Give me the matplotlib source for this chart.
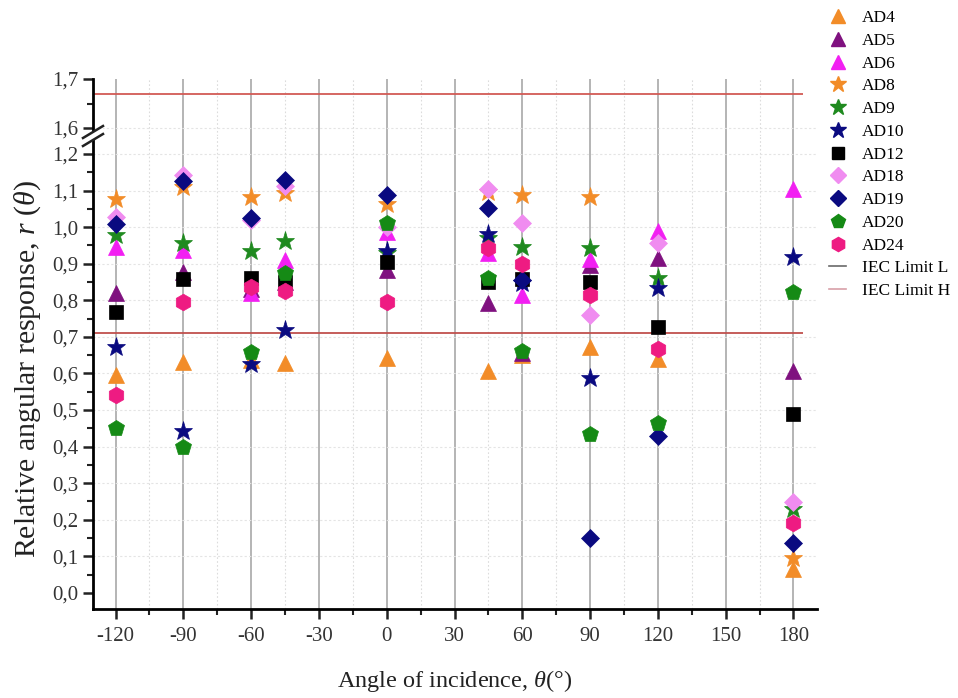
import numpy as np
import matplotlib
matplotlib.use("Agg")
import matplotlib.pyplot as plt
from matplotlib.lines import Line2D
from matplotlib.ticker import MultipleLocator, FixedLocator, FuncFormatter

plt.rcParams['font.family'] = ['Liberation Serif', 'DejaVu Serif']
plt.rcParams['mathtext.fontset'] = 'custom'
plt.rcParams['mathtext.rm'] = 'Liberation Serif'
plt.rcParams['mathtext.it'] = 'Liberation Serif:italic'

angles = [-120, -90, -60, -45, 0, 45, 60, 90, 120, 180]
nan = np.nan
AD4 = [0.596, 0.631, 0.637, 0.628, 0.642, 0.607, 0.650, 0.673, 0.639, 0.066]
AD5 = [0.820, 0.878, 0.830, 0.850, 0.882, 0.793, 0.655, 0.896, 0.915, 0.607]
AD6 = [0.946, 0.937, 0.820, 0.910, 0.987, 0.928, 0.814, 0.912, 0.990, 1.104]
AD8 = [1.077, 1.109, 1.082, 1.094, 1.063, 1.095, 1.087, 1.083, nan, 0.096]
AD9 = [0.978, 0.956, 0.935, 0.963, 0.930, 0.970, 0.946, 0.942, 0.860, 0.230]
AD10 = [0.673, 0.443, 0.626, 0.718, 0.935, 0.981, 0.847, 0.588, 0.833, 0.919]
AD12 = [0.769, 0.858, 0.860, 0.850, 0.905, 0.850, 0.857, 0.850, 0.727, 0.489]
AD18 = [1.027, 1.142, 1.020, 1.112, 1.000, 1.103, 1.012, 0.760, 0.957, 0.249]
AD19 = [1.008, 1.126, 1.024, 1.128, 1.087, 1.052, 0.855, 0.151, 0.429, 0.137]
AD20 = [0.451, 0.400, 0.659, 0.874, 1.012, 0.862, 0.660, 0.434, 0.465, 0.823]
AD24 = [0.541, 0.796, 0.837, 0.825, 0.796, 0.942, 0.900, 0.814, 0.666, 0.190]
IEC_L = 0.71
IEC_H = 1.67

series = [
    ("AD4", AD4, '^', '#f28c28', 12),
    ("AD5", AD5, '^', '#7f117f', 12),
    ("AD6", AD6, '^', '#f21ff2', 12),
    ("AD8", AD8, '*', '#f28c28', 14),
    ("AD9", AD9, '*', '#1f8a1f', 14),
    ("AD10", AD10, '*', '#0a0a80', 14),
    ("AD12", AD12, 's', '#000000', 9.5),
    ("AD18", AD18, 'D', '#f08cf0', 9.5),
    ("AD19", AD19, 'D', '#0a0a80', 9.5),
    ("AD20", AD20, 'p', '#158a15', 12),
    ("AD24", AD24, 'h', '#ee1b82', 12),
]

W, H = 958, 698
fig = plt.figure(figsize=(W / 100, H / 100), dpi=100)
left = 93 / W
right = 817 / W
y0 = 609
ybrk = 136
ytop = 79
ax = fig.add_axes([left, (H - y0) / H, right - left, (y0 - ybrk) / H])
axu = fig.add_axes([left, (H - ybrk) / H, right - left, (ybrk - ytop) / H], sharex=ax)

xlim = (-130, 190.4)
ax.set_xlim(*xlim)
ax.set_ylim(-0.044, 1.249)
axu.set_ylim(1.5837, 1.70)

for a in (ax, axu):
    a.spines['top'].set_visible(False)
    a.spines['right'].set_visible(False)
    a.spines['left'].set_linewidth(2)
    a.spines['bottom'].set_linewidth(2)
    a.set_facecolor('none')
    for xv in np.arange(-120, 181, 30):
        a.axvline(xv, color='#a8a8a8', lw=1.2, zorder=0)
    for xv in np.arange(-105, 181, 30):
        a.axvline(xv, color='#dcdcdc', lw=0.8, ls=(0, (1.5, 2)), zorder=0)
    a.tick_params(axis='both', which='major', direction='out', length=7, width=1.8,
                  labelsize=15, colors='#222222', labelcolor='#333333')
    a.tick_params(axis='both', which='minor', direction='out', length=4, width=1.5, colors='#222222')

ax.tick_params(axis='x', which='major', pad=6)
axu.spines['bottom'].set_visible(False)
axu.tick_params(axis='x', which='both', bottom=False, labelbottom=False)

ax.xaxis.set_major_locator(MultipleLocator(30))
ax.xaxis.set_minor_locator(MultipleLocator(15))
ax.yaxis.set_major_locator(FixedLocator(np.round(np.arange(0, 1.21, 0.1), 2)))
ax.yaxis.set_minor_locator(FixedLocator(np.round(np.arange(0.05, 1.25, 0.1), 2)))
axu.yaxis.set_major_locator(FixedLocator([1.6, 1.7]))
axu.yaxis.set_minor_locator(FixedLocator([1.65]))

fmt = lambda v, p: ('%.1f' % v).replace('.', ',')
ax.yaxis.set_major_formatter(FuncFormatter(fmt))
axu.yaxis.set_major_formatter(FuncFormatter(fmt))
ax.xaxis.set_major_formatter(FuncFormatter(lambda v, p: '%d' % v))

for yv in np.arange(0.1, 1.21, 0.1):
    ax.axhline(yv, color='#e4e4e4', lw=0.8, ls=(0, (2, 2)), zorder=0)
axu.axhline(1.6, color='#e4e4e4', lw=0.8, ls=(0, (2, 2)), zorder=0)

handles = []
for name, vals, mk, col, ms in series:
    ax.plot(angles, vals, linestyle='none', marker=mk, ms=ms, color=col,
            mec=col, mew=0.5, zorder=3, clip_on=False)
    handles.append(Line2D([], [], linestyle='none', marker=mk, ms=ms * 0.85,
                          color=col, mec=col, label=name))

ax.hlines(IEC_L, xlim[0], 184, color='#c0504d', lw=1.3, zorder=2)
axu.hlines(IEC_H, xlim[0], 184, color='#d25a55', lw=1.3, zorder=2)
handles.append(Line2D([], [], color='#6a6a6a', lw=1.2, label='IEC Limit L'))
handles.append(Line2D([], [], color='#d8a0a8', lw=1.2, label='IEC Limit H'))

fig.legend(handles=handles, loc='upper left', bbox_to_anchor=(822 / W, 1 - 3 / H),
           frameon=False, fontsize=12.5, handlelength=1.0, handletextpad=0.9,
           labelspacing=0.38, borderaxespad=0)

ax.set_xlabel(r'Angle of incidence, $\theta$(°)', fontsize=17.5, color='#222222', labelpad=16)
fig.text(28 / W, 1 - 369 / H, r'Relative angular response, $r$ ($\theta$)',
         rotation=90, ha='center', va='center', fontsize=21.5, color='#222222')

# break marks
for dy in (-4, 4):
    xa = np.array([83, 103]) / W
    ya = 1 - (np.array([ybrk + 6, ybrk - 6]) + dy) / H
    fig.add_artist(Line2D(xa, ya, color='#222222', lw=1.8, transform=fig.transFigure))
xa = np.array([85, 101]) / W
ya = 1 - (np.array([ybrk + 4.5, ybrk - 4.5])) / H
fig.add_artist(Line2D(xa, ya, color='white', lw=4.5, transform=fig.transFigure, zorder=1))

fig.savefig('out.png', dpi=100)
